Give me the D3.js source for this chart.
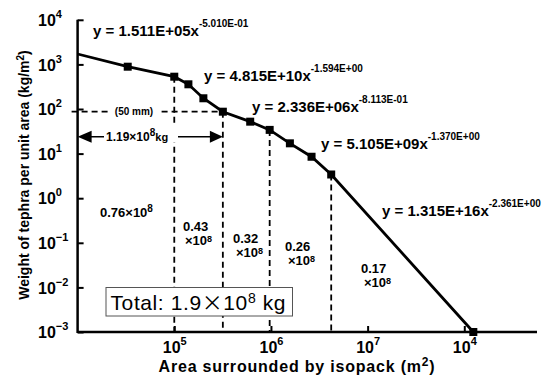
<!DOCTYPE html>
<html>
<head>
<meta charset="utf-8">
<script src="https://cdn.jsdelivr.net/npm/d3@7"></script>
<style>
  body { margin: 0; background: #fff; }
  svg { display: block; }
  text { font-family: "Liberation Sans", Arial, sans-serif; fill: #000; }
</style>
</head>
<body>
<div id="chart"></div>
<script>
// isopach points (area m2, weight kg/m2)
const areas   = [3.3e4, 1.0e5, 1.4e5, 2.0e5, 3.18e5, 6.1e5, 9.7e5, 1.57e6, 2.63e6, 4.2e6, 1.24e8];
const weights = [888, 530, 358, 174, 87, 52, 34, 17, 8.5, 3.4, 0.001];
// the fitted line starts on the y axis
const startArea = 1e4, startWeight = 1710;

// points that get a dashed drop line, and the 50 mm point
const dropIdx = [1, 4, 6, 9];
const idx50mm = 4;
const arrowWeight = 24;

const yTicks = [1e-3, 1e-2, 1e-1, 1, 10, 100, 1e3, 1e4];
const yTickExps = ["\u22123", "\u22122", "\u22121", "0", "1", "2", "3", "4"];
const xTicks = [1e5, 1e6, 1e7, 1e8];
const xTickExps = ["5", "6", "7", "4"]; // last one is printed as 10^4 on the original

const eqCoefs = ["1.511E+05", "4.815E+10", "2.336E+06", "5.105E+09", "1.315E+16"];
const eqExps  = ["-5.010E-01", "-1.594E+00", "-8.113E-01", "-1.370E+00", "-2.361E+00"];

const segMass = ["0.76", "0.43", "0.32", "0.26", "0.17"];
const totalMass = "1.9";
const innerMass = "1.19";

const W = 544, H = 375;
const svg = d3.select("#chart").append("svg")
  .attr("width", W).attr("height", H);

const x = d3.scaleLog().domain([1e4, 1e8]).range([77.6, 464.3]);
const y = d3.scaleLog().domain([1e-3, 1e4]).range([332, 19.8]);
const x0 = x.range()[0], y0 = y.range()[0];

// superscript helper
function sup(t, base, exp, expSize, dy) {
  t.append("tspan").text(base);
  t.append("tspan").attr("font-size", expSize).attr("dy", -dy).text(exp);
}

// axes
const xAxis = svg.append("g").attr("transform", `translate(0,${y0})`)
  .call(d3.axisBottom(x).tickValues(xTicks).tickSizeInner(-6).tickSizeOuter(0));
const yAxis = svg.append("g").attr("transform", `translate(${x0},0)`)
  .call(d3.axisLeft(y).tickValues(yTicks).tickSizeInner(-6).tickSizeOuter(0));
[xAxis, yAxis].forEach(a => {
  a.select(".domain").remove();
  a.selectAll(".tick line").attr("stroke", "#000").attr("stroke-width", 2);
});

xAxis.selectAll(".tick text").each(function(d, i) {
  const t = d3.select(this).text("").attr("y", 21).attr("dy", 0)
    .attr("font-size", 16).attr("font-weight", "bold");
  sup(t, "10", xTickExps[i], 11, 8);
});
yAxis.selectAll(".tick text").each(function(d, i) {
  const t = d3.select(this).text("").attr("x", 38 - x0).attr("dy", "0.35em")
    .attr("text-anchor", "start").attr("font-size", 16).attr("font-weight", "bold");
  sup(t, "10", yTickExps[i], 11, 8);
});

svg.append("line").attr("x1", x0).attr("x2", 537).attr("y1", y0).attr("y2", y0)
  .attr("stroke", "#000").attr("stroke-width", 2.5);
svg.append("line").attr("x1", x0).attr("x2", x0).attr("y1", y(1e4)).attr("y2", y0 + 1)
  .attr("stroke", "#000").attr("stroke-width", 2.5);

// dashed guides
const dash = g => g.attr("stroke", "#000").attr("stroke-width", 1.8).attr("stroke-dasharray", "6,4").attr("fill", "none");
svg.selectAll(".drop").data(dropIdx).join("line")
  .attr("x1", i => x(areas[i])).attr("x2", i => x(areas[i]))
  .attr("y1", i => y(weights[i])).attr("y2", y0)
  .call(dash);
svg.append("line")
  .attr("x1", x0 - 6).attr("x2", x(areas[idx50mm]))
  .attr("y1", y(weights[idx50mm])).attr("y2", y(weights[idx50mm]))
  .call(dash);

// (50 mm) label
const y50 = y(weights[idx50mm]);
svg.append("rect").attr("x", 110).attr("y", y50 - 7).attr("width", 48).attr("height", 13).attr("fill", "#fff");
svg.append("text").attr("x", 134).attr("y", y50 + 3.5).attr("text-anchor", "middle")
  .attr("font-size", 10).attr("font-weight", "bold").text("(50 mm)");

// double arrow
const ya = y(arrowWeight), xa2 = x(areas[idx50mm]);
svg.append("line").attr("x1", x0 + 10).attr("x2", xa2 - 10).attr("y1", ya).attr("y2", ya)
  .attr("stroke", "#000").attr("stroke-width", 1.5);
svg.append("path").attr("d", `M${x0},${ya}L${x0 + 14},${ya - 6}L${x0 + 14},${ya + 6}Z`);
svg.append("path").attr("d", `M${xa2},${ya}L${xa2 - 13},${ya - 6}L${xa2 - 13},${ya + 6}Z`);
svg.append("rect").attr("x", 104).attr("y", ya - 12).attr("width", 74).attr("height", 18).attr("fill", "#fff");
{
  const t = svg.append("text").attr("x", 106).attr("y", ya + 4)
    .attr("font-size", 12).attr("font-weight", "bold");
  t.append("tspan").text(innerMass + "\u00d710");
  t.append("tspan").attr("font-size", 10).attr("dy", -5).text("8");
  t.append("tspan").attr("font-size", 11).attr("dy", 5).text("kg");
}

// main line + squares
const line = d3.line().x(d => x(d[0])).y(d => y(d[1]));
const pts = [[startArea, startWeight]].concat(areas.map((a, i) => [a, weights[i]]));
svg.append("path").datum(pts).attr("d", line)
  .attr("fill", "none").attr("stroke", "#000").attr("stroke-width", 2.8);
svg.selectAll(".pt").data(areas).join("rect")
  .attr("x", d => x(d) - 4).attr("y", (d, i) => y(weights[i]) - 4)
  .attr("width", 8).attr("height", 8).attr("fill", "#000");

// fit equations
const eqPos = [[93, 36], [204, 81], [252, 112], [321, 149], [382, 216]];
eqCoefs.forEach((c, i) => {
  const t = svg.append("text").attr("x", eqPos[i][0]).attr("y", eqPos[i][1])
    .attr("font-size", 15).attr("font-weight", "bold");
  sup(t, "y = " + c + "x", eqExps[i], 10, 9);
});

// segment masses
const segPos = [[100, 216.7, 0, 0], [183, 231, 185, 245], [233, 243, 236, 257], [285, 251, 288, 265], [361, 273, 364, 287]];
segMass.forEach((m, i) => {
  const p = segPos[i];
  if (i === 0) {
    const t = svg.append("text").attr("x", p[0]).attr("y", p[1]).attr("font-size", 13).attr("font-weight", "bold");
    sup(t, m + "\u00d710", "8", 10, 5);
  } else {
    svg.append("text").attr("x", p[0]).attr("y", p[1]).attr("font-size", 13).attr("font-weight", "bold").text(m);
    const t = svg.append("text").attr("x", p[2]).attr("y", p[3]).attr("font-size", 13).attr("font-weight", "bold");
    sup(t, "\u00d710", "8", 9, 3);
  }
});

// total box
svg.append("rect").attr("x", 106).attr("y", 287.5).attr("width", 186.5).attr("height", 28.5)
  .attr("fill", "#fff").attr("stroke", "#555").attr("stroke-width", 1);
{
  const t = svg.append("text").attr("x", 110.5).attr("y", 310).attr("font-size", 21)
    .attr("letter-spacing", 0.6);
  t.append("tspan").text("Total: " + totalMass);
  t.append("tspan").attr("font-family", "Noto Sans CJK JP").text("\u00d7");
  t.append("tspan").text("10");
  t.append("tspan").attr("font-size", 14).attr("dy", -7).text("8");
  t.append("tspan").attr("dy", 7).text(" kg");
}

// axis titles
{
  const t = svg.append("text").attr("x", 297).attr("y", 372).attr("text-anchor", "middle")
    .attr("font-size", 16).attr("font-weight", "bold").attr("letter-spacing", 0.8);
  t.append("tspan").text("Area surrounded by isopack (m");
  t.append("tspan").attr("font-size", 12).attr("dy", -6).text("2");
  t.append("tspan").attr("dy", 6).text(")");
}
{
  const t = svg.append("text").attr("transform", "translate(29,175) rotate(-90)")
    .attr("text-anchor", "middle").attr("font-size", 14).attr("font-weight", "bold");
  t.append("tspan").text("Weight of tephra per unit area (kg/m");
  t.append("tspan").attr("font-size", 10).attr("dy", -5).text("2");
  t.append("tspan").attr("dy", 5).text(")");
}
</script>
</body>
</html>
